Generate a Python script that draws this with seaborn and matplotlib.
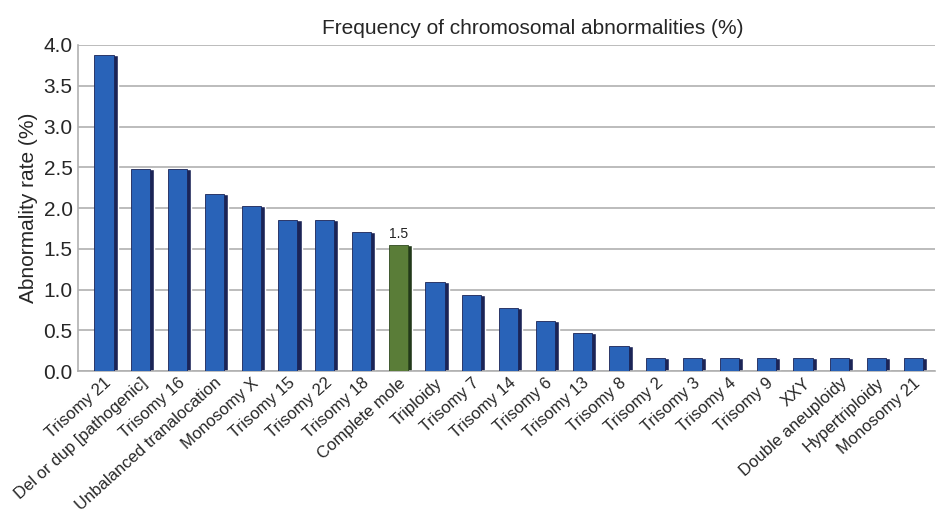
import numpy as np
import pandas as pd
import seaborn as sns
import matplotlib.pyplot as plt

categories = ["Trisomy 21", "Del or dup [pathogenic]", "Trisomy 16", "Unbalanced tranalocation",
              "Monosomy X", "Trisomy 15", "Trisomy 22", "Trisomy 18", "Complete mole", "Triploidy",
              "Trisomy 7", "Trisomy 14", "Trisomy 6", "Trisomy 13", "Trisomy 8", "Trisomy 2",
              "Trisomy 3", "Trisomy 4", "Trisomy 9", "XXY", "Double aneuploidy", "Hypertriploidy",
              "Monosomy 21"]
rates = [3.88, 2.48, 2.48, 2.17, 2.02, 1.86, 1.86, 1.71, 1.55, 1.09, 0.93, 0.78, 0.62,
         0.47, 0.31, 0.16, 0.16, 0.16, 0.16, 0.16, 0.16, 0.16, 0.16]
highlight = "Complete mole"
yticks = [0.0, 0.5, 1.0, 1.5, 2.0, 2.5, 3.0, 3.5, 4.0]

df = pd.DataFrame({"cat": categories, "rate": rates})
df["grp"] = np.where(df["cat"] == highlight, "hl", "base")

sns.set_style("white")
plt.rcParams["font.family"] = ["Liberation Sans", "DejaVu Sans"]

fig = plt.figure(figsize=(9.42, 5.17), dpi=100)
ax = fig.add_axes([0.083, 0.282, 0.91, 0.631])

# dark side face (fake 3D) drawn first, slightly wider
sns.barplot(data=df, x="cat", y="rate", hue="grp", palette={"base": "#1b2456", "hl": "#22391a"},
            width=0.6, saturation=1, legend=False, ax=ax, zorder=2)
n_side = len(ax.patches)
for p in ax.patches:
    p.set_x(p.get_x() + 0.07)
sns.barplot(data=df, x="cat", y="rate", hue="grp", palette={"base": "#2963b8", "hl": "#5a7d38"},
            width=0.52, saturation=1, legend=False, ax=ax, zorder=3)
for p in ax.patches[n_side:]:
    p.set_edgecolor("#1b2456" if p.get_facecolor()[2] > 0.5 else "#2f4a1f")
    p.set_linewidth(0.6)

idx = categories.index(highlight)
ax.text(idx, rates[idx] + 0.05, "1.5", ha="center", va="bottom", fontsize=10, color="#222222")

ax.set_ylim(0, 4.0)
ax.set_xlim(-0.7, len(categories) - 0.4)
ax.set_yticks(yticks)
ax.set_yticklabels([f"{t:.1f}" for t in yticks], fontsize=15)
ax.yaxis.grid(True, color="#b0b0b0", linewidth=1.2, zorder=0)
ax.set_axisbelow(True)
for s in ["top", "right"]:
    ax.spines[s].set_visible(False)
for s in ["left", "bottom"]:
    ax.spines[s].set_color("#b0b0b0")
    ax.spines[s].set_linewidth(1.2)

ax.set_xlabel("")
ax.set_ylabel("Abnormality rate (%)", fontsize=15)
ax.tick_params(axis="x", length=0, pad=3)
ax.tick_params(axis="y", length=0, pad=4)
plt.setp(ax.get_xticklabels(), rotation=42, ha="right", rotation_mode="anchor", fontsize=12)
ax.set_title("Frequency of chromosomal abnormalities (%)", fontsize=15, pad=8, x=0.53)

fig.savefig("out.png", dpi=100)
